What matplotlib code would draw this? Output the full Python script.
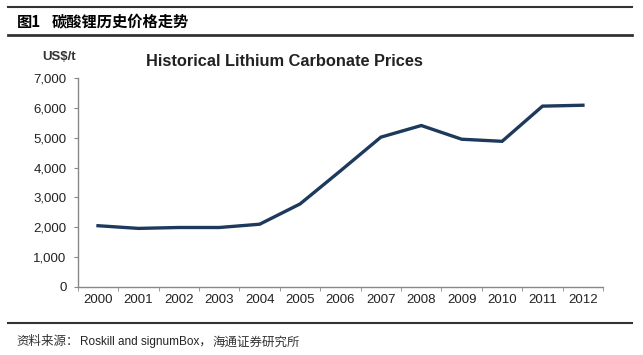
import numpy as np
import matplotlib
matplotlib.use('Agg')
import matplotlib.pyplot as plt
from matplotlib.lines import Line2D

plt.rcParams['font.family'] = ['Liberation Sans', 'Noto Sans CJK SC', 'DejaVu Sans']

years = ['2000', '2001', '2002', '2003', '2004', '2005', '2006',
         '2007', '2008', '2009', '2010', '2011', '2012']
prices = [2050, 1960, 1990, 1990, 2100, 2780, 3890,
          5020, 5410, 4950, 4880, 6060, 6090]
yticks = [0, 1000, 2000, 3000, 4000, 5000, 6000, 7000]

fig = plt.figure(figsize=(6.43, 3.55), dpi=100)
ax = fig.add_axes([0.121, 0.192, 0.817, 0.588])

x = np.arange(len(years))
ax.plot(x, prices, color='#1d3a5c', linewidth=2.4, solid_joinstyle='miter')

ax.set_xlim(-0.5, len(years) - 0.5)
ax.set_ylim(0, 7000)
ax.set_yticks(yticks)
ax.set_yticklabels(['{:,}'.format(v) for v in yticks])
ax.set_xticks(x)
ax.set_xticklabels(years)
ax.set_xticks(np.arange(len(years) + 1) - 0.5, minor=True)
ax.tick_params(axis='x', which='major', length=0, labelsize=9.5, pad=5,
               labelcolor='#222222')
ax.tick_params(axis='x', which='minor', length=3, color='#888888', direction='out')
ax.tick_params(axis='y', length=3, color='#888888', labelsize=9.5, pad=5,
               labelcolor='#222222')

for s in ['top', 'right']:
    ax.spines[s].set_visible(False)
for s in ['left', 'bottom']:
    ax.spines[s].set_color('#888888')
    ax.spines[s].set_linewidth(1.0)

fig.text(59 / 643, 1 - 57 / 355, 'US$/t', fontsize=9.5, fontweight='bold',
         color='#333333', ha='center', va='center')
fig.text(146 / 643, 1 - 62 / 355, 'Historical Lithium Carbonate Prices',
         fontsize=11.8, fontweight='bold', color='#222222', ha='left', va='center')

# header and footer rules
for yy, lw in [(7, 1.5), (35, 2.0), (323, 1.5)]:
    fig.add_artist(Line2D([8 / 643, 632 / 643], [1 - yy / 355, 1 - yy / 355],
                          color='#333333', linewidth=lw, transform=fig.transFigure))

cjk = ['Noto Sans CJK SC', 'DejaVu Sans']
fig.text(17 / 643, 1 - 22 / 355, '图1', fontsize=11, fontweight='bold',
         ha='left', va='center', family=cjk)
fig.text(52 / 643, 1 - 22 / 355, '碳酸锂历史价格走势', fontsize=11, fontweight='bold',
         ha='left', va='center', family=cjk)
fig.text(16 / 643, 1 - 342 / 355, '资料来源：', fontsize=9, ha='left', va='center',
         family=cjk, color='#333333')
fig.text(80 / 643, 1 - 342 / 355, 'Roskill and signumBox，', fontsize=8.5,
         ha='left', va='center', family=['Liberation Sans', 'Noto Sans CJK SC'],
         color='#222222')
fig.text(213 / 643, 1 - 342 / 355, '海通证券研究所', fontsize=9, ha='left', va='center',
         family=cjk, color='#333333')

fig.savefig('out.png', dpi=100)
